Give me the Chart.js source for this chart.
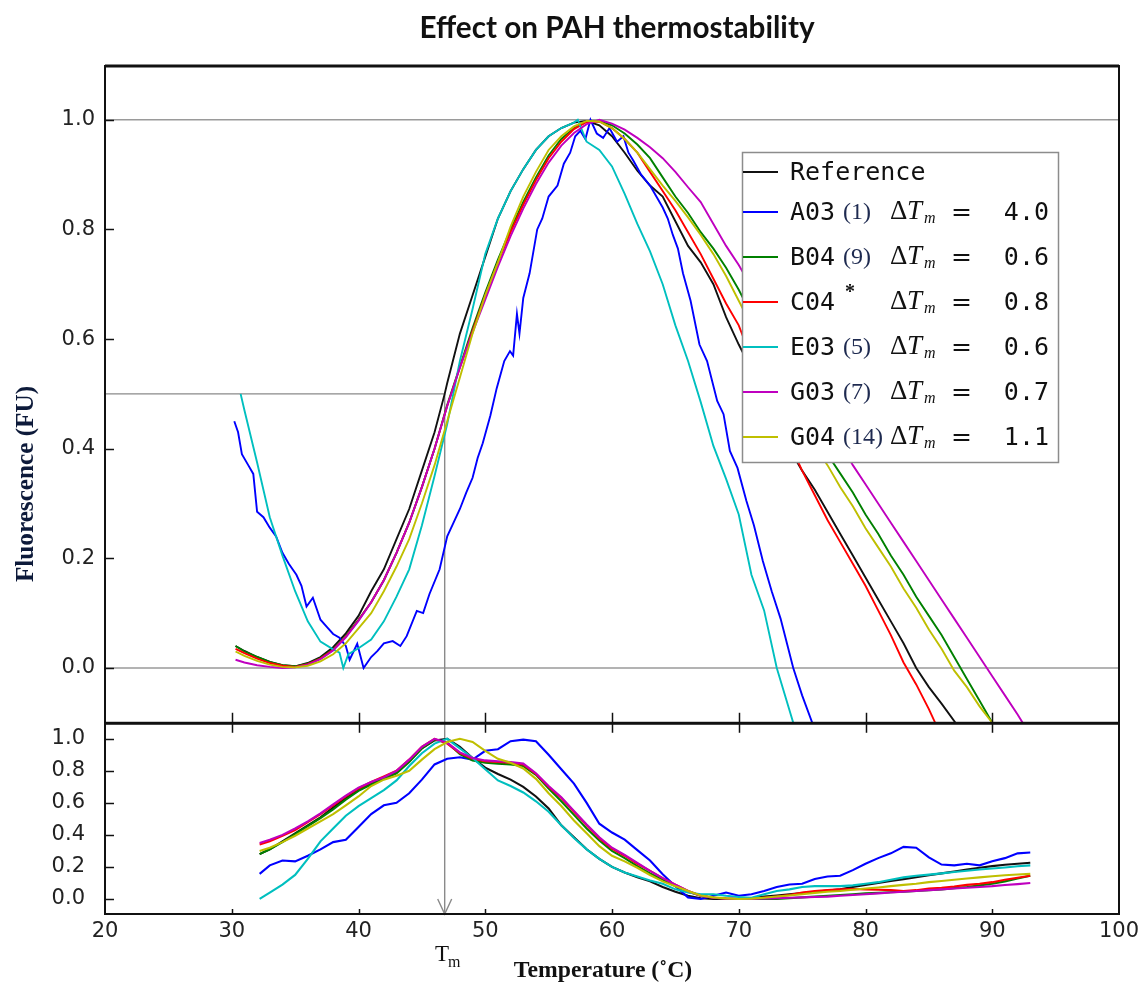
<!DOCTYPE html>
<html>
<head>
<meta charset="utf-8">
<script src="https://cdn.jsdelivr.net/npm/chart.js@4.4.1/dist/chart.umd.min.js"></script>
<style>
html,body{margin:0;padding:0;background:#fff;}
#wrap{width:1147px;height:987px;position:relative;}
canvas{display:block;}
</style>
</head>
<body>
<div id="wrap"><canvas id="c" width="1147" height="987"></canvas></div>
<script>
// ---------- tick labels ----------
const tempTicks = [20, 30, 40, 50, 60, 70, 80, 90, 100];
const fluorTicks = [0.0, 0.2, 0.4, 0.6, 0.8, 1.0];
const derivTicks = [0.0, 0.2, 0.4, 0.6, 0.8, 1.0];
const refLevels = [0.0, 1.0];
const tmValue = 46.8;
const tmLevel = 0.5;

// ---------- legend ----------
const seriesNames = ['Reference', 'A03', 'B04', 'C04', 'E03', 'G03', 'G04'];
const seriesRefs = ['', '(1)', '(9)', '*', '(5)', '(7)', '(14)'];
const deltaTm = [null, '4.0', '0.6', '0.8', '0.6', '0.7', '1.1'];
const seriesColors = ['#111111', '#0000ff', '#008000', '#ff0000', '#00bfbf', '#bf00bf', '#bfbf00'];

// ---------- top panel: normalised fluorescence ----------
const refTempTop = [30.3,31,32,33,34,35,36,37,38,39,40,41,42,43,44,45,46,46.8,47,48,49,50,51,52,53,54,55,56,57,58,59,60,61,62,63,64,65,66,67,68,69,70,71,72,73,74,75,76,77,78,79,80,81,82,83,84,85,86,87.1];
const refFluor = [0.040,0.031,0.020,0.011,0.005,0.003,0.009,0.020,0.038,0.063,0.095,0.140,0.180,0.235,0.290,0.360,0.430,0.500,0.520,0.610,0.680,0.750,0.820,0.870,0.910,0.945,0.970,0.985,0.995,0.998,0.990,0.970,0.940,0.907,0.880,0.860,0.815,0.770,0.740,0.700,0.640,0.590,0.545,0.500,0.450,0.400,0.360,0.325,0.285,0.245,0.205,0.165,0.125,0.085,0.045,0.000,-0.035,-0.065,-0.100];

const a03TempTop = [30.2,30.5,30.8,31.3,31.7,32.0,32.5,33.0,33.5,34.0,34.5,35.1,35.5,35.9,36.4,37.0,37.5,38.0,38.5,39.0,39.3,39.9,40.4,41.0,41.5,42.0,42.7,43.3,43.8,44.6,45.1,45.6,46.4,47.0,47.5,48.0,48.5,49.0,49.4,49.8,50.4,50.9,51.5,51.95,52.2,52.5,52.7,53.0,53.5,54.1,54.5,55.0,55.7,56.2,56.7,57.1,57.5,57.9,58.3,58.8,59.3,59.8,60.4,60.9,61.3,61.7,62.3,63.0,63.5,64.0,64.4,64.8,65.2,65.6,66.2,66.9,67.5,68.3,68.8,69.3,69.9,70.6,71.2,71.9,72.6,73.3,73.8,74.3,75.0,75.8];
const a03Fluor = [0.450,0.430,0.390,0.370,0.354,0.285,0.275,0.256,0.240,0.210,0.190,0.170,0.150,0.112,0.128,0.088,0.075,0.062,0.055,0.040,0.015,0.044,0.000,0.020,0.031,0.045,0.049,0.040,0.058,0.104,0.100,0.135,0.180,0.240,0.265,0.290,0.320,0.347,0.383,0.410,0.460,0.510,0.560,0.578,0.570,0.646,0.610,0.675,0.720,0.800,0.820,0.860,0.880,0.920,0.940,0.970,0.980,0.965,1.000,0.975,0.967,0.985,0.960,0.970,0.940,0.925,0.900,0.880,0.860,0.840,0.820,0.790,0.765,0.720,0.670,0.590,0.560,0.487,0.463,0.396,0.365,0.305,0.260,0.195,0.140,0.090,0.045,0.000,-0.050,-0.100];

const b04TempTop = [30.3,31,32,33,34,35,36,37,38,39,40,41,42,43,44,45,46,47,48,49,50,51,52,53,54,55,56,57,58,59,60,61,62,63,64,65,66,67,68,69,70,71,72,73,74,75,76,77,78,79,80,81,82,83,84,85,86,87,88,89,90];
const b04Fluor = [0.040,0.030,0.020,0.011,0.005,0.003,0.008,0.018,0.034,0.058,0.088,0.120,0.160,0.210,0.265,0.330,0.400,0.480,0.550,0.620,0.685,0.745,0.800,0.850,0.895,0.935,0.965,0.985,0.997,0.998,0.990,0.975,0.955,0.930,0.895,0.860,0.830,0.795,0.765,0.730,0.690,0.645,0.600,0.555,0.510,0.470,0.430,0.390,0.355,0.320,0.280,0.245,0.205,0.170,0.130,0.095,0.060,0.020,-0.020,-0.060,-0.100];

const c04TempTop = [30.3,31,32,33,34,35,36,37,38,39,40,41,42,43,44,45,46,47,48,49,50,51,52,53,54,55,56,57,58,59,60,61,62,63,64,65,66,67,68,69,70,71,72,73,74,75,76,77,78,79,80,81,82,83,84,85,85.5];
const c04Fluor = [0.035,0.027,0.017,0.009,0.004,0.002,0.007,0.017,0.033,0.057,0.087,0.120,0.160,0.210,0.265,0.330,0.400,0.478,0.548,0.615,0.680,0.740,0.795,0.845,0.890,0.930,0.960,0.983,0.996,0.997,0.985,0.965,0.940,0.905,0.870,0.835,0.795,0.755,0.710,0.665,0.625,0.565,0.510,0.460,0.410,0.360,0.315,0.270,0.230,0.190,0.150,0.105,0.060,0.010,-0.030,-0.075,-0.100];

const e03TempTop = [30.7,31,32,33,34,35,36,37,38,38.5,38.8,39.2,40,41,42,43,44,45,46,47,48,49,50,51,52,53,54,55,56,57,57.3,58,59,60,61,62,63,64,65,66,67,68,69,70,71,72,73,74.3];
const e03Fluor = [0.500,0.470,0.375,0.275,0.205,0.140,0.085,0.048,0.034,0.028,0.000,0.025,0.036,0.052,0.085,0.130,0.180,0.260,0.350,0.445,0.560,0.655,0.755,0.820,0.870,0.910,0.945,0.970,0.985,0.995,1.000,0.960,0.945,0.915,0.865,0.810,0.760,0.700,0.625,0.560,0.485,0.405,0.345,0.280,0.170,0.105,0.000,-0.100];

const g03TempTop = [30.3,31,32,33,34,35,36,37,38,39,40,41,42,43,44,45,46,47,48,49,50,51,52,53,54,55,56,57,58,59,60,61,62,63,64,65,66,67,68,69,70,71,72,73,74,75,76,77,78,79,80,81,82,83,84,85,86,87,88,89,90,91,92,92.4];
const g03Fluor = [0.015,0.010,0.005,0.002,0.000,0.001,0.006,0.016,0.032,0.056,0.086,0.120,0.160,0.210,0.265,0.330,0.400,0.478,0.548,0.612,0.672,0.732,0.788,0.838,0.883,0.922,0.953,0.976,0.992,1.000,0.993,0.982,0.967,0.950,0.930,0.905,0.877,0.850,0.810,0.770,0.735,0.695,0.655,0.615,0.575,0.535,0.490,0.450,0.410,0.370,0.335,0.300,0.265,0.230,0.195,0.160,0.125,0.090,0.055,0.020,-0.015,-0.050,-0.085,-0.100];

const g04TempTop = [30.3,31,32,33,34,35,36,37,38,39,40,41,42,43,44,45,46,47,48,49,50,51,52,53,54,55,56,57,58,59,60,61,62,63,64,65,66,67,68,69,70,71,72,73,74,75,76,77,78,79,80,81,82,83,84,85,86,87,88,89,90];
const g04Fluor = [0.030,0.022,0.013,0.006,0.002,0.001,0.004,0.012,0.025,0.045,0.072,0.100,0.140,0.185,0.235,0.300,0.370,0.450,0.530,0.610,0.680,0.740,0.805,0.860,0.905,0.945,0.970,0.988,0.998,0.997,0.985,0.965,0.940,0.910,0.880,0.852,0.822,0.790,0.755,0.715,0.670,0.625,0.575,0.530,0.490,0.445,0.405,0.370,0.330,0.295,0.255,0.220,0.185,0.145,0.110,0.070,0.035,-0.005,-0.035,-0.070,-0.100];

// ---------- bottom panel: normalised derivative ----------
const tempBottom = [32.2,33,34,35,36,37,38,39,40,41,42,43,44,45,46,47,48,49,50,51,52,53,54,55,56,57,58,59,60,61,62,63,64,65,66,67,68,69,70,71,72,73,74,75,76,77,78,79,80,81,82,83,84,85,86,87,88,89,90,91,92,93];
const refDeriv = [0.28,0.31,0.36,0.41,0.46,0.51,0.57,0.63,0.68,0.72, 0.75,0.79,0.86,0.94,0.99,1.00,0.95,0.88,0.82,0.78, 0.745,0.70,0.64,0.565,0.46,0.385,0.31,0.25,0.20,0.165, 0.135,0.11,0.075,0.045,0.02,0.005,0.0,0.0,0.0,0.005, 0.015,0.022,0.03,0.037,0.045,0.052,0.06,0.075,0.088,0.10, 0.112,0.124,0.136,0.148,0.16,0.172,0.184,0.195,0.205,0.214, 0.22,0.226];
const a03Deriv = [0.157,0.21,0.24,0.235,0.27,0.31,0.355,0.37,0.45,0.53, 0.585,0.60,0.66,0.745,0.84,0.875,0.885,0.87,0.925,0.935, 0.985,0.995,0.985,0.90,0.81,0.72,0.60,0.47,0.415,0.37, 0.305,0.24,0.155,0.08,0.01,0.0,0.02,0.04,0.02,0.03, 0.05,0.075,0.09,0.095,0.125,0.14,0.145,0.18,0.22,0.255, 0.285,0.325,0.32,0.26,0.215,0.21,0.22,0.21,0.235,0.255, 0.285,0.29];
const b04Deriv = [0.28,0.31,0.355,0.405,0.455,0.505,0.56,0.62,0.675,0.715, 0.75,0.785,0.855,0.94,0.995,0.975,0.905,0.865,0.85,0.845, 0.84,0.83,0.775,0.69,0.61,0.525,0.44,0.365,0.30,0.255, 0.205,0.16,0.12,0.08,0.045,0.02,0.008,0.003,0.0,0.0, 0.002,0.0,0.005,0.01,0.015,0.02,0.025,0.03,0.035,0.038, 0.042,0.046,0.05,0.055,0.06,0.068,0.075,0.085,0.095,0.11, 0.128,0.145];
const c04Deriv = [0.34,0.36,0.395,0.43,0.48,0.53,0.585,0.64,0.69,0.73, 0.765,0.80,0.87,0.95,1.0,0.97,0.91,0.875,0.86,0.855, 0.85,0.84,0.78,0.70,0.63,0.545,0.46,0.38,0.315,0.27, 0.22,0.175,0.13,0.09,0.05,0.02,0.008,0.003,0.0,0.002, 0.008,0.015,0.025,0.04,0.05,0.055,0.06,0.062,0.06,0.058, 0.055,0.05,0.055,0.065,0.07,0.078,0.088,0.095,0.105,0.12, 0.132,0.145];
const e03Deriv = [0.0,0.04,0.09,0.15,0.25,0.36,0.44,0.52,0.58,0.63, 0.68,0.74,0.83,0.91,0.97,1.0,0.94,0.88,0.81,0.74, 0.705,0.665,0.61,0.545,0.46,0.38,0.31,0.25,0.20,0.165, 0.14,0.115,0.095,0.06,0.04,0.03,0.03,0.02,0.012,0.008, 0.03,0.05,0.06,0.075,0.08,0.08,0.08,0.085,0.095,0.105, 0.12,0.135,0.145,0.152,0.16,0.168,0.176,0.184,0.19,0.197, 0.204,0.21];
const g03Deriv = [0.35,0.37,0.40,0.44,0.485,0.535,0.59,0.645,0.695,0.73, 0.76,0.80,0.87,0.95,1.0,0.975,0.915,0.88,0.865,0.86, 0.855,0.845,0.785,0.705,0.635,0.55,0.465,0.385,0.32,0.275, 0.225,0.175,0.13,0.09,0.05,0.02,0.008,0.002,0.0,0.0, 0.003,0.005,0.008,0.01,0.012,0.015,0.02,0.025,0.03,0.035, 0.04,0.045,0.05,0.055,0.06,0.065,0.07,0.075,0.08,0.087, 0.093,0.10];
const g04Deriv = [0.30,0.32,0.355,0.395,0.44,0.485,0.53,0.585,0.64,0.705, 0.745,0.77,0.80,0.87,0.935,0.98,1.0,0.98,0.925,0.875, 0.85,0.815,0.75,0.66,0.58,0.49,0.41,0.33,0.27,0.235, 0.195,0.15,0.11,0.08,0.05,0.022,0.01,0.004,0.0,0.002, 0.008,0.015,0.022,0.03,0.038,0.045,0.05,0.058,0.065,0.072, 0.08,0.088,0.095,0.105,0.112,0.12,0.128,0.135,0.142,0.148, 0.153,0.157];

// ---------- build datasets ----------
const topSeries = [
  [refTempTop, refFluor], [a03TempTop, a03Fluor], [b04TempTop, b04Fluor], [c04TempTop, c04Fluor],
  [e03TempTop, e03Fluor], [g03TempTop, g03Fluor], [g04TempTop, g04Fluor]
];
const bottomSeries = [refDeriv, a03Deriv, b04Deriv, c04Deriv, e03Deriv, g03Deriv, g04Deriv];
const pair = (xs, ys) => xs.map((t, i) => ({x: t, y: ys[i]}));

const datasets = [];
topSeries.forEach((s, i) => {
  datasets.push({
    label: seriesNames[i], data: pair(s[0], s[1]), yAxisID: 'y',
    borderColor: seriesColors[i], borderWidth: 1.9, pointRadius: 0, tension: 0, fill: false,
    order: 20 - i
  });
});
bottomSeries.forEach((s, i) => {
  datasets.push({
    label: seriesNames[i] + ' derivative', data: pair(tempBottom, s), yAxisID: 'y2',
    borderColor: seriesColors[i], borderWidth: 2.1, pointRadius: 0, tension: 0, fill: false,
    order: 20 - i
  });
});

function fitFont(ctx, text, weight, family, targetWidth) {
  ctx.font = weight + ' 100px ' + family;
  const w = ctx.measureText(text).width;
  return 100 * targetWidth / w;
}

const decor = {
  id: 'decor',
  beforeDatasetsDraw(chart) {
    const {ctx, scales: {x, y, y2}} = chart;
    ctx.save();
    ctx.strokeStyle = '#9a9a9a';
    ctx.lineWidth = 1.6;
    refLevels.forEach(v => {
      const py = y.getPixelForValue(v);
      ctx.beginPath(); ctx.moveTo(x.left, py); ctx.lineTo(x.right, py); ctx.stroke();
    });
    const tx = x.getPixelForValue(tmValue), ty = y.getPixelForValue(tmLevel);
    ctx.strokeStyle = '#8a8a8a';
    ctx.lineWidth = 1.4;
    ctx.beginPath(); ctx.moveTo(x.left, ty); ctx.lineTo(tx, ty); ctx.lineTo(tx, y2.bottom - 1); ctx.stroke();
    ctx.beginPath();
    ctx.moveTo(tx - 7, y2.bottom - 16); ctx.lineTo(tx, y2.bottom - 1); ctx.lineTo(tx + 7, y2.bottom - 16);
    ctx.stroke();
    ctx.restore();
  },
  afterDatasetsDraw(chart) {
    const {ctx, scales: {x, y, y2}} = chart;
    ctx.save();
    // frames
    ctx.strokeStyle = '#111';
    ctx.lineWidth = 2;
    ctx.strokeRect(x.left, y.top + 1, x.right - x.left, y.bottom - y.top - 1);
    ctx.strokeRect(x.left, y2.top + 1, x.right - x.left, y2.bottom - y2.top - 2);
    ctx.lineWidth = 3;
    ctx.beginPath(); ctx.moveTo(x.left, y.top + 1); ctx.lineTo(x.right, y.top + 1); ctx.stroke();
    // x ticks
    ctx.lineWidth = 1.5;
    tempTicks.forEach(v => {
      if (v <= x.min || v >= x.max) return;
      const px = Math.round(x.getPixelForValue(v)) + 0.5;
      ctx.beginPath(); ctx.moveTo(px, y.bottom); ctx.lineTo(px, y.bottom - 10); ctx.stroke();
      ctx.beginPath(); ctx.moveTo(px, y2.top); ctx.lineTo(px, y2.top + 10); ctx.stroke();
      ctx.beginPath(); ctx.moveTo(px, y2.bottom); ctx.lineTo(px, y2.bottom - 6); ctx.stroke();
    });
    // y ticks
    fluorTicks.forEach(v => {
      const py = Math.round(y.getPixelForValue(v)) + 0.5;
      ctx.beginPath(); ctx.moveTo(x.left, py); ctx.lineTo(x.left + 9, py); ctx.stroke();
    });
    derivTicks.forEach(v => {
      const py = Math.round(y2.getPixelForValue(v)) + 0.5;
      ctx.beginPath(); ctx.moveTo(x.left, py); ctx.lineTo(x.left + 9, py); ctx.stroke();
    });

    // legend
    const lx0 = 742, ly0 = 152, lx1 = 1058, ly1 = 462;
    ctx.fillStyle = '#fff';
    ctx.fillRect(lx0, ly0, lx1 - lx0, ly1 - ly0);
    ctx.strokeStyle = '#8c8c8c';
    ctx.lineWidth = 1.5;
    ctx.strokeRect(lx0 + 0.5, ly0 + 0.5, lx1 - lx0, ly1 - ly0);
    const rowY = [172, 212, 257, 302, 347, 392, 437];
    seriesNames.forEach((name, i) => {
      const ry = rowY[i];
      ctx.strokeStyle = seriesColors[i];
      ctx.lineWidth = 2;
      ctx.beginPath(); ctx.moveTo(743, ry); ctx.lineTo(778, ry); ctx.stroke();
      ctx.fillStyle = '#111';
      ctx.textBaseline = 'alphabetic';
      ctx.textAlign = 'left';
      ctx.font = '25px "DejaVu Sans Mono"';
      ctx.fillText(name, 790, ry + 8);
      if (deltaTm[i] === null) return;
      const ref = seriesRefs[i];
      if (ref === '*') {
        ctx.font = 'bold 20px "Liberation Serif"';
        ctx.fillStyle = '#111';
        ctx.fillText('*', 845, ry - 4);
      } else {
        ctx.font = '24px "Liberation Serif"';
        ctx.fillStyle = '#1e2a50';
        ctx.fillText(ref, 843, ry + 7);
      }
      ctx.fillStyle = '#111';
      ctx.font = '27px "Liberation Serif"';
      ctx.fillText('\u0394', 890, ry + 7);
      ctx.font = 'italic 27px "Liberation Serif"';
      ctx.fillText('T', 907, ry + 7);
      ctx.font = 'italic 16px "Liberation Serif"';
      ctx.fillText('m', 924, ry + 11);
      ctx.font = '25px "DejaVu Sans"';
      ctx.fillText('=', 951, ry + 8);
      ctx.font = '25px "DejaVu Sans Mono"';
      ctx.textAlign = 'right';
      ctx.fillText(deltaTm[i], 1049, ry + 8);
      ctx.textAlign = 'left';
    });

    // title
    ctx.fillStyle = '#111';
    ctx.textAlign = 'center';
    ctx.textBaseline = 'alphabetic';
    const title = 'Effect on PAH thermostability';
    const ts = fitFont(ctx, title, 'bold', 'Lato', 395);
    ctx.font = 'bold ' + ts.toFixed(1) + 'px Lato';
    ctx.fillText(title, 617, 38);

    // x title
    const xt = 'Temperature (\u02DAC)';
    const xs = fitFont(ctx, xt, 'bold', '"Liberation Serif"', 178);
    ctx.font = 'bold ' + xs.toFixed(1) + 'px "Liberation Serif"';
    ctx.fillText(xt, 603, 977);

    // Tm label
    ctx.textAlign = 'left';
    ctx.font = '23px "Liberation Serif"';
    ctx.fillText('T', 435, 961);
    ctx.font = '16px "Liberation Serif"';
    ctx.fillText('m', 448, 967);

    // y title
    const yt = 'Fluorescence (FU)';
    const ys = fitFont(ctx, yt, 'bold', '"Liberation Serif"', 196);
    ctx.save();
    ctx.translate(33, 484);
    ctx.rotate(-Math.PI / 2);
    ctx.textAlign = 'center';
    ctx.font = 'bold ' + ys.toFixed(1) + 'px "Liberation Serif"';
    ctx.fillStyle = '#0d1a3a';
    ctx.fillText(yt, 0, 0);
    ctx.restore();

    ctx.restore();
  }
};

const tickFont = {family: 'DejaVu Sans', size: 21};
new Chart(document.getElementById('c').getContext('2d'), {
  type: 'line',
  data: {datasets},
  options: {
    responsive: false,
    animation: false,
    devicePixelRatio: 1,
    layout: {padding: {top: 65, right: 28, left: 0, bottom: 0}},
    plugins: {legend: {display: false}, tooltip: {enabled: false}, title: {display: false}},
    scales: {
      x: {
        type: 'linear', min: 20, max: 100, position: 'bottom',
        afterBuildTicks: s => { s.ticks = tempTicks.map(v => ({value: v})); },
        afterFit: s => { s.height = 72; },
        ticks: {font: tickFont, color: '#222', padding: 4, maxRotation: 0, autoSkip: false, callback: v => String(v)},
        grid: {display: false, drawTicks: false},
        border: {display: false}
      },
      y2: {
        type: 'linear', position: 'left', stack: 'panels', stackWeight: 192, min: -0.1, max: 1.1,
        afterBuildTicks: s => { s.ticks = derivTicks.map(v => ({value: v})); },
        afterFit: s => { s.width = 105; },
        ticks: {font: tickFont, color: '#222', padding: 20, autoSkip: false, callback: v => Number(v).toFixed(1)},
        grid: {display: false, drawTicks: false},
        border: {display: false}
      },
      y: {
        type: 'linear', position: 'left', stack: 'panels', stackWeight: 657, min: -0.1, max: 1.1,
        afterBuildTicks: s => { s.ticks = fluorTicks.map(v => ({value: v})); },
        afterFit: s => { s.width = 105; },
        ticks: {font: tickFont, color: '#222', padding: 10, autoSkip: false, callback: v => Number(v).toFixed(1)},
        grid: {display: false, drawTicks: false},
        border: {display: false}
      }
    }
  },
  plugins: [decor]
});
</script>
</body>
</html>
